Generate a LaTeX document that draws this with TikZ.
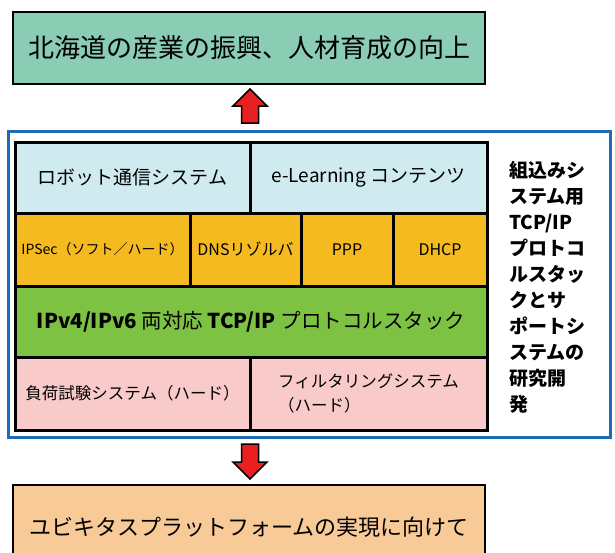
\documentclass[tikz,border=0pt]{standalone}
\usepackage{fontspec}
\setmainfont{Noto Sans CJK JP}
\usetikzlibrary{positioning}
\definecolor{goalgreen}{RGB}{138,205,180}
\definecolor{appblue}{RGB}{208,235,240}
\definecolor{protoorange}{RGB}{245,186,32}
\definecolor{stackgreen}{RGB}{125,194,66}
\definecolor{testpink}{RGB}{248,202,202}
\definecolor{targetorange}{RGB}{248,202,152}
\definecolor{frameblue}{RGB}{31,107,181}
\definecolor{arrowred}{RGB}{232,32,32}
\tikzstyle{goalbox} = [rectangle, draw=black, line width=2.5pt, minimum width=472, minimum height=72, inner sep=0pt]
\tikzstyle{cell} = [rectangle, draw=black, line width=3pt, inner sep=0pt, align=center]
\tikzstyle{bigarrow} = [fill=arrowred, draw=black, line width=1.5pt, line join=miter]

\begin{document}
\begin{tikzpicture}[x=1pt,y=-1pt]
        \useasboundingbox (0,0) rectangle (615,552);
        \node [goalbox, fill=goalgreen, font=\fontsize{26}{30}\selectfont] at (249,48) (goal) {北海道の産業の振興、人材育成の向上};
        \node [rectangle, draw=frameblue, line width=3pt, minimum width=602, minimum height=306] at (309,284) (frame) {};
        \node [cell, fill=appblue, minimum width=235, minimum height=71, font=\fontsize{19}{23}\selectfont] at (132.5,177.5) (robot) {ロボット通信システム};
        \node [cell, fill=appblue, minimum width=237, minimum height=71, font=\fontsize{19}{23}\selectfont] at (368.5,177.5) (elearn) {e-Learning コンテンツ};
        \node [cell, fill=protoorange, minimum width=175, minimum height=73, font=\fontsize{14}{19}\selectfont] at (102.5,249.5) (ipsec) {IPSec（ソフト／ハード）};
        \node [cell, fill=protoorange, minimum width=111, minimum height=73, font=\fontsize{16}{19}\selectfont] at (245.5,249.5) (dns) {DNSリゾルバ};
        \node [cell, fill=protoorange, minimum width=92, minimum height=73, font=\fontsize{16}{19}\selectfont] at (347,249.5) (ppp) {PPP};
        \node [cell, fill=protoorange, minimum width=94, minimum height=73, font=\fontsize{16}{19}\selectfont] at (440,249.5) (dhcp) {DHCP};
        \node [cell, fill=stackgreen, minimum width=472, minimum height=71, font=\fontsize{20.5}{23}\selectfont] at (251,321.5) (stack) {\textbf{IPv4/IPv6} 両対応 \textbf{TCP/IP} プロトコルスタック};
        \node [cell, fill=testpink, minimum width=235, minimum height=73, font=\fontsize{16.5}{21}\selectfont] at (132.5,393.5) (load) {負荷試験システム（ハード）};
        \node [cell, fill=testpink, minimum width=237, minimum height=73, font=\fontsize{16.5}{24}\selectfont, align=left] at (368.5,393.5) (filter) {フィルタリングシステム\\（ハード）};
        \node [anchor=north west, align=left, inner sep=0pt, font=\bfseries\fontsize{19}{26}\selectfont] at (509,161) (aim) {組込みシ\\ステム用\\TCP/IP\\プロトコ\\ルスタッ\\クとサ\\ポートシ\\ステムの\\研究開\\発};
        \node [goalbox, fill=targetorange, minimum height=84, font=\fontsize{22}{25}\selectfont] at (249,527) (target) {ユビキタスプラットフォームの実現に向けて};
        % block arrows
        \filldraw [bigarrow] (250,89) -- (267,106) -- (258.5,106) -- (258.5,123) -- (241.5,123) -- (241.5,106) -- (233,106) -- cycle;
        \filldraw [bigarrow] (250,479) -- (267,462) -- (258.5,462) -- (258.5,444) -- (241.5,444) -- (241.5,462) -- (233,462) -- cycle;
        \end{tikzpicture}
\end{document}
